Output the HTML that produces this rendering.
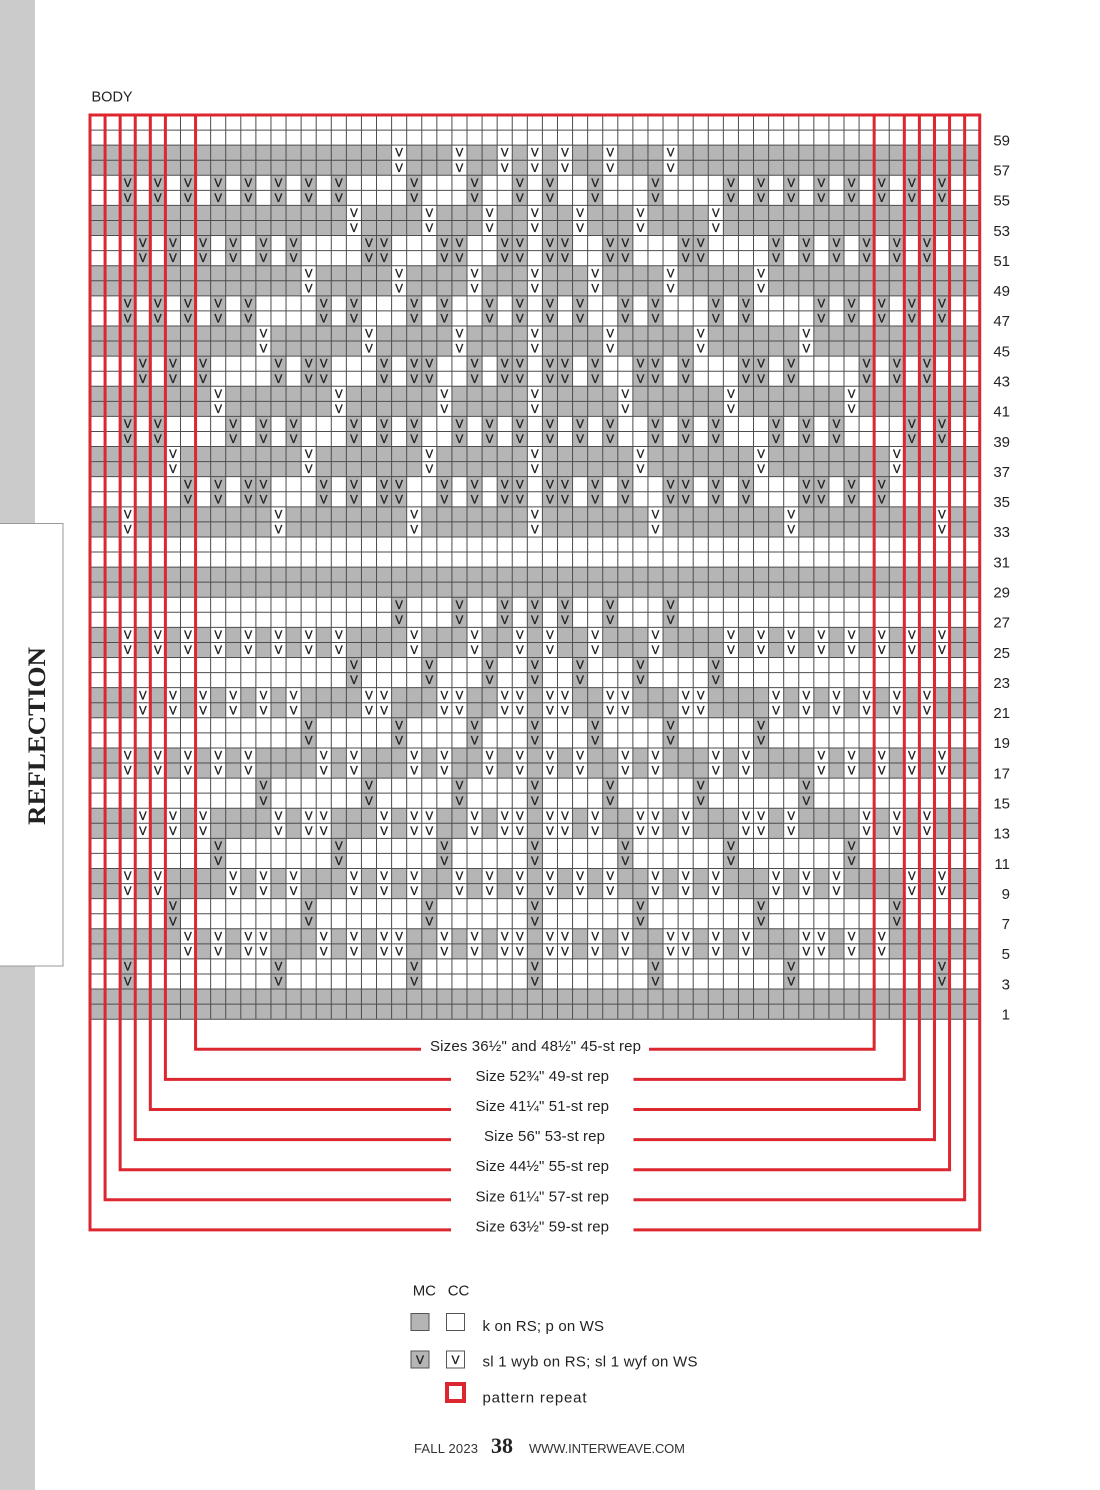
<!DOCTYPE html>
<html><head><meta charset="utf-8">
<style>
html,body{margin:0;padding:0;background:#fff;}
body{width:1100px;height:1490px;overflow:hidden;position:relative;}
svg{position:absolute;left:0;top:0;}
.v{font-family:"Liberation Sans",sans-serif;font-size:11.5px;fill:#222;stroke:#222;stroke-width:0.35;text-anchor:middle;}
.cw{stroke:#fff;stroke-width:15.08;fill:none;}
.cg{stroke:#b5b5b5;stroke-width:15.08;fill:none;}
.t{font-family:"Liberation Sans",sans-serif;fill:#222;}
</style></head>
<body>
<svg width="1100" height="1490" viewBox="0 0 1100 1490" xmlns="http://www.w3.org/2000/svg">
<!-- sidebar -->
<rect x="0" y="0" width="35" height="1490" fill="#cbcbcb"/>
<rect x="-2" y="523.5" width="65" height="442.5" fill="#fff" stroke="#999" stroke-width="1"/>
<text transform="translate(45,736) rotate(-90)" text-anchor="middle" font-family="Liberation Serif, serif" font-weight="bold" font-size="25" fill="#222" textLength="178" lengthAdjust="spacingAndGlyphs">REFLECTION</text>

<text class="t" x="91.5" y="101.7" font-size="14.5">BODY</text>

<!-- gray bands -->
<g fill="#b5b5b5">
<rect x="90" y="145.14" width="889.72" height="30.14"/>
<rect x="90" y="205.42" width="889.72" height="30.14"/>
<rect x="90" y="265.70" width="889.72" height="30.14"/>
<rect x="90" y="325.98" width="889.72" height="30.14"/>
<rect x="90" y="386.26" width="889.72" height="30.14"/>
<rect x="90" y="446.54" width="889.72" height="30.14"/>
<rect x="90" y="506.82" width="889.72" height="30.14"/>
<rect x="90" y="567.10" width="889.72" height="30.14"/>
<rect x="90" y="627.38" width="889.72" height="30.14"/>
<rect x="90" y="687.66" width="889.72" height="30.14"/>
<rect x="90" y="747.94" width="889.72" height="30.14"/>
<rect x="90" y="808.22" width="889.72" height="30.14"/>
<rect x="90" y="868.50" width="889.72" height="30.14"/>
<rect x="90" y="928.78" width="889.72" height="30.14"/>
<rect x="90" y="989.06" width="889.72" height="30.14"/>
</g>

<!-- ===== Upper half ===== -->
<g transform="translate(0,145.14)">
<path class="cw" d="M399.14 0v30.14M459.46 0v30.14M504.7 0v30.14M534.86 0v30.14M565.02 0v30.14M610.26 0v30.14M670.58 0v30.14"/>
<text class="v" x="399.14 459.46 504.7 534.86 565.02 610.26 670.58" y="11.6">VVVVVVV</text>
<text class="v" x="399.14 459.46 504.7 534.86 565.02 610.26 670.58" y="26.7">VVVVVVV</text>
</g>
<g transform="translate(0,175.28)">
<path class="cg" d="M127.7 0v30.14M157.86 0v30.14M188.02 0v30.14M218.18 0v30.14M248.34 0v30.14M278.5 0v30.14M308.66 0v30.14M338.82 0v30.14M414.22 0v30.14M474.54 0v30.14M519.78 0v30.14M549.94 0v30.14M595.18 0v30.14M655.5 0v30.14M730.9 0v30.14M761.06 0v30.14M791.22 0v30.14M821.38 0v30.14M851.54 0v30.14M881.7 0v30.14M911.86 0v30.14M942.02 0v30.14"/>
<text class="v" x="127.7 157.86 188.02 218.18 248.34 278.5 308.66 338.82 414.22 474.54 519.78 549.94 595.18 655.5 730.9 761.06 791.22 821.38 851.54 881.7 911.86 942.02" y="11.6">VVVVVVVVVVVVVVVVVVVVVV</text>
<text class="v" x="127.7 157.86 188.02 218.18 248.34 278.5 308.66 338.82 414.22 474.54 519.78 549.94 595.18 655.5 730.9 761.06 791.22 821.38 851.54 881.7 911.86 942.02" y="26.7">VVVVVVVVVVVVVVVVVVVVVV</text>
</g>
<g transform="translate(0,205.42)">
<path class="cw" d="M353.9 0v30.14M429.3 0v30.14M489.62 0v30.14M534.86 0v30.14M580.1 0v30.14M640.42 0v30.14M715.82 0v30.14"/>
<text class="v" x="353.9 429.3 489.62 534.86 580.1 640.42 715.82" y="11.6">VVVVVVV</text>
<text class="v" x="353.9 429.3 489.62 534.86 580.1 640.42 715.82" y="26.7">VVVVVVV</text>
</g>
<g transform="translate(0,235.56)">
<path class="cg" d="M142.78 0v30.14M172.94 0v30.14M203.1 0v30.14M233.26 0v30.14M263.42 0v30.14M293.58 0v30.14M368.98 0v30.14M384.06 0v30.14M444.38 0v30.14M459.46 0v30.14M504.7 0v30.14M519.78 0v30.14M549.94 0v30.14M565.02 0v30.14M610.26 0v30.14M625.34 0v30.14M685.66 0v30.14M700.74 0v30.14M776.14 0v30.14M806.3 0v30.14M836.46 0v30.14M866.62 0v30.14M896.78 0v30.14M926.94 0v30.14"/>
<text class="v" x="142.78 172.94 203.1 233.26 263.42 293.58 368.98 384.06 444.38 459.46 504.7 519.78 549.94 565.02 610.26 625.34 685.66 700.74 776.14 806.3 836.46 866.62 896.78 926.94" y="11.6">VVVVVVVVVVVVVVVVVVVVVVVV</text>
<text class="v" x="142.78 172.94 203.1 233.26 263.42 293.58 368.98 384.06 444.38 459.46 504.7 519.78 549.94 565.02 610.26 625.34 685.66 700.74 776.14 806.3 836.46 866.62 896.78 926.94" y="26.7">VVVVVVVVVVVVVVVVVVVVVVVV</text>
</g>
<g transform="translate(0,265.70)">
<path class="cw" d="M308.66 0v30.14M399.14 0v30.14M474.54 0v30.14M534.86 0v30.14M595.18 0v30.14M670.58 0v30.14M761.06 0v30.14"/>
<text class="v" x="308.66 399.14 474.54 534.86 595.18 670.58 761.06" y="11.6">VVVVVVV</text>
<text class="v" x="308.66 399.14 474.54 534.86 595.18 670.58 761.06" y="26.7">VVVVVVV</text>
</g>
<g transform="translate(0,295.84)">
<path class="cg" d="M127.7 0v30.14M157.86 0v30.14M188.02 0v30.14M218.18 0v30.14M248.34 0v30.14M323.74 0v30.14M353.9 0v30.14M414.22 0v30.14M444.38 0v30.14M489.62 0v30.14M519.78 0v30.14M549.94 0v30.14M580.1 0v30.14M625.34 0v30.14M655.5 0v30.14M715.82 0v30.14M745.98 0v30.14M821.38 0v30.14M851.54 0v30.14M881.7 0v30.14M911.86 0v30.14M942.02 0v30.14"/>
<text class="v" x="127.7 157.86 188.02 218.18 248.34 323.74 353.9 414.22 444.38 489.62 519.78 549.94 580.1 625.34 655.5 715.82 745.98 821.38 851.54 881.7 911.86 942.02" y="11.6">VVVVVVVVVVVVVVVVVVVVVV</text>
<text class="v" x="127.7 157.86 188.02 218.18 248.34 323.74 353.9 414.22 444.38 489.62 519.78 549.94 580.1 625.34 655.5 715.82 745.98 821.38 851.54 881.7 911.86 942.02" y="26.7">VVVVVVVVVVVVVVVVVVVVVV</text>
</g>
<g transform="translate(0,325.98)">
<path class="cw" d="M263.42 0v30.14M368.98 0v30.14M459.46 0v30.14M534.86 0v30.14M610.26 0v30.14M700.74 0v30.14M806.3 0v30.14"/>
<text class="v" x="263.42 368.98 459.46 534.86 610.26 700.74 806.3" y="11.6">VVVVVVV</text>
<text class="v" x="263.42 368.98 459.46 534.86 610.26 700.74 806.3" y="26.7">VVVVVVV</text>
</g>
<g transform="translate(0,356.12)">
<path class="cg" d="M142.78 0v30.14M172.94 0v30.14M203.1 0v30.14M278.5 0v30.14M308.66 0v30.14M323.74 0v30.14M384.06 0v30.14M414.22 0v30.14M429.3 0v30.14M474.54 0v30.14M504.7 0v30.14M519.78 0v30.14M549.94 0v30.14M565.02 0v30.14M595.18 0v30.14M640.42 0v30.14M655.5 0v30.14M685.66 0v30.14M745.98 0v30.14M761.06 0v30.14M791.22 0v30.14M866.62 0v30.14M896.78 0v30.14M926.94 0v30.14"/>
<text class="v" x="142.78 172.94 203.1 278.5 308.66 323.74 384.06 414.22 429.3 474.54 504.7 519.78 549.94 565.02 595.18 640.42 655.5 685.66 745.98 761.06 791.22 866.62 896.78 926.94" y="11.6">VVVVVVVVVVVVVVVVVVVVVVVV</text>
<text class="v" x="142.78 172.94 203.1 278.5 308.66 323.74 384.06 414.22 429.3 474.54 504.7 519.78 549.94 565.02 595.18 640.42 655.5 685.66 745.98 761.06 791.22 866.62 896.78 926.94" y="26.7">VVVVVVVVVVVVVVVVVVVVVVVV</text>
</g>
<g transform="translate(0,386.26)">
<path class="cw" d="M218.18 0v30.14M338.82 0v30.14M444.38 0v30.14M534.86 0v30.14M625.34 0v30.14M730.9 0v30.14M851.54 0v30.14"/>
<text class="v" x="218.18 338.82 444.38 534.86 625.34 730.9 851.54" y="11.6">VVVVVVV</text>
<text class="v" x="218.18 338.82 444.38 534.86 625.34 730.9 851.54" y="26.7">VVVVVVV</text>
</g>
<g transform="translate(0,416.40)">
<path class="cg" d="M127.7 0v30.14M157.86 0v30.14M233.26 0v30.14M263.42 0v30.14M293.58 0v30.14M353.9 0v30.14M384.06 0v30.14M414.22 0v30.14M459.46 0v30.14M489.62 0v30.14M519.78 0v30.14M549.94 0v30.14M580.1 0v30.14M610.26 0v30.14M655.5 0v30.14M685.66 0v30.14M715.82 0v30.14M776.14 0v30.14M806.3 0v30.14M836.46 0v30.14M911.86 0v30.14M942.02 0v30.14"/>
<text class="v" x="127.7 157.86 233.26 263.42 293.58 353.9 384.06 414.22 459.46 489.62 519.78 549.94 580.1 610.26 655.5 685.66 715.82 776.14 806.3 836.46 911.86 942.02" y="11.6">VVVVVVVVVVVVVVVVVVVVVV</text>
<text class="v" x="127.7 157.86 233.26 263.42 293.58 353.9 384.06 414.22 459.46 489.62 519.78 549.94 580.1 610.26 655.5 685.66 715.82 776.14 806.3 836.46 911.86 942.02" y="26.7">VVVVVVVVVVVVVVVVVVVVVV</text>
</g>
<g transform="translate(0,446.54)">
<path class="cw" d="M172.94 0v30.14M308.66 0v30.14M429.3 0v30.14M534.86 0v30.14M640.42 0v30.14M761.06 0v30.14M896.78 0v30.14"/>
<text class="v" x="172.94 308.66 429.3 534.86 640.42 761.06 896.78" y="11.6">VVVVVVV</text>
<text class="v" x="172.94 308.66 429.3 534.86 640.42 761.06 896.78" y="26.7">VVVVVVV</text>
</g>
<g transform="translate(0,476.68)">
<path class="cg" d="M188.02 0v30.14M218.18 0v30.14M248.34 0v30.14M263.42 0v30.14M323.74 0v30.14M353.9 0v30.14M384.06 0v30.14M399.14 0v30.14M444.38 0v30.14M474.54 0v30.14M504.7 0v30.14M519.78 0v30.14M549.94 0v30.14M565.02 0v30.14M595.18 0v30.14M625.34 0v30.14M670.58 0v30.14M685.66 0v30.14M715.82 0v30.14M745.98 0v30.14M806.3 0v30.14M821.38 0v30.14M851.54 0v30.14M881.7 0v30.14"/>
<text class="v" x="188.02 218.18 248.34 263.42 323.74 353.9 384.06 399.14 444.38 474.54 504.7 519.78 549.94 565.02 595.18 625.34 670.58 685.66 715.82 745.98 806.3 821.38 851.54 881.7" y="11.6">VVVVVVVVVVVVVVVVVVVVVVVV</text>
<text class="v" x="188.02 218.18 248.34 263.42 323.74 353.9 384.06 399.14 444.38 474.54 504.7 519.78 549.94 565.02 595.18 625.34 670.58 685.66 715.82 745.98 806.3 821.38 851.54 881.7" y="26.7">VVVVVVVVVVVVVVVVVVVVVVVV</text>
</g>
<g transform="translate(0,506.82)">
<path class="cw" d="M127.7 0v30.14M278.5 0v30.14M414.22 0v30.14M534.86 0v30.14M655.5 0v30.14M791.22 0v30.14M942.02 0v30.14"/>
<text class="v" x="127.7 278.5 414.22 534.86 655.5 791.22 942.02" y="11.6">VVVVVVV</text>
<text class="v" x="127.7 278.5 414.22 534.86 655.5 791.22 942.02" y="26.7">VVVVVVV</text>
</g>

<!-- ===== Lower half ===== -->
<g transform="translate(0,597.24)">
<path class="cg" d="M399.14 0v30.14M459.46 0v30.14M504.7 0v30.14M534.86 0v30.14M565.02 0v30.14M610.26 0v30.14M670.58 0v30.14"/>
<text class="v" x="399.14 459.46 504.7 534.86 565.02 610.26 670.58" y="11.6">VVVVVVV</text>
<text class="v" x="399.14 459.46 504.7 534.86 565.02 610.26 670.58" y="26.7">VVVVVVV</text>
</g>
<g transform="translate(0,627.38)">
<path class="cw" d="M127.7 0v30.14M157.86 0v30.14M188.02 0v30.14M218.18 0v30.14M248.34 0v30.14M278.5 0v30.14M308.66 0v30.14M338.82 0v30.14M414.22 0v30.14M474.54 0v30.14M519.78 0v30.14M549.94 0v30.14M595.18 0v30.14M655.5 0v30.14M730.9 0v30.14M761.06 0v30.14M791.22 0v30.14M821.38 0v30.14M851.54 0v30.14M881.7 0v30.14M911.86 0v30.14M942.02 0v30.14"/>
<text class="v" x="127.7 157.86 188.02 218.18 248.34 278.5 308.66 338.82 414.22 474.54 519.78 549.94 595.18 655.5 730.9 761.06 791.22 821.38 851.54 881.7 911.86 942.02" y="11.6">VVVVVVVVVVVVVVVVVVVVVV</text>
<text class="v" x="127.7 157.86 188.02 218.18 248.34 278.5 308.66 338.82 414.22 474.54 519.78 549.94 595.18 655.5 730.9 761.06 791.22 821.38 851.54 881.7 911.86 942.02" y="26.7">VVVVVVVVVVVVVVVVVVVVVV</text>
</g>
<g transform="translate(0,657.52)">
<path class="cg" d="M353.9 0v30.14M429.3 0v30.14M489.62 0v30.14M534.86 0v30.14M580.1 0v30.14M640.42 0v30.14M715.82 0v30.14"/>
<text class="v" x="353.9 429.3 489.62 534.86 580.1 640.42 715.82" y="11.6">VVVVVVV</text>
<text class="v" x="353.9 429.3 489.62 534.86 580.1 640.42 715.82" y="26.7">VVVVVVV</text>
</g>
<g transform="translate(0,687.66)">
<path class="cw" d="M142.78 0v30.14M172.94 0v30.14M203.1 0v30.14M233.26 0v30.14M263.42 0v30.14M293.58 0v30.14M368.98 0v30.14M384.06 0v30.14M444.38 0v30.14M459.46 0v30.14M504.7 0v30.14M519.78 0v30.14M549.94 0v30.14M565.02 0v30.14M610.26 0v30.14M625.34 0v30.14M685.66 0v30.14M700.74 0v30.14M776.14 0v30.14M806.3 0v30.14M836.46 0v30.14M866.62 0v30.14M896.78 0v30.14M926.94 0v30.14"/>
<text class="v" x="142.78 172.94 203.1 233.26 263.42 293.58 368.98 384.06 444.38 459.46 504.7 519.78 549.94 565.02 610.26 625.34 685.66 700.74 776.14 806.3 836.46 866.62 896.78 926.94" y="11.6">VVVVVVVVVVVVVVVVVVVVVVVV</text>
<text class="v" x="142.78 172.94 203.1 233.26 263.42 293.58 368.98 384.06 444.38 459.46 504.7 519.78 549.94 565.02 610.26 625.34 685.66 700.74 776.14 806.3 836.46 866.62 896.78 926.94" y="26.7">VVVVVVVVVVVVVVVVVVVVVVVV</text>
</g>
<g transform="translate(0,717.80)">
<path class="cg" d="M308.66 0v30.14M399.14 0v30.14M474.54 0v30.14M534.86 0v30.14M595.18 0v30.14M670.58 0v30.14M761.06 0v30.14"/>
<text class="v" x="308.66 399.14 474.54 534.86 595.18 670.58 761.06" y="11.6">VVVVVVV</text>
<text class="v" x="308.66 399.14 474.54 534.86 595.18 670.58 761.06" y="26.7">VVVVVVV</text>
</g>
<g transform="translate(0,747.94)">
<path class="cw" d="M127.7 0v30.14M157.86 0v30.14M188.02 0v30.14M218.18 0v30.14M248.34 0v30.14M323.74 0v30.14M353.9 0v30.14M414.22 0v30.14M444.38 0v30.14M489.62 0v30.14M519.78 0v30.14M549.94 0v30.14M580.1 0v30.14M625.34 0v30.14M655.5 0v30.14M715.82 0v30.14M745.98 0v30.14M821.38 0v30.14M851.54 0v30.14M881.7 0v30.14M911.86 0v30.14M942.02 0v30.14"/>
<text class="v" x="127.7 157.86 188.02 218.18 248.34 323.74 353.9 414.22 444.38 489.62 519.78 549.94 580.1 625.34 655.5 715.82 745.98 821.38 851.54 881.7 911.86 942.02" y="11.6">VVVVVVVVVVVVVVVVVVVVVV</text>
<text class="v" x="127.7 157.86 188.02 218.18 248.34 323.74 353.9 414.22 444.38 489.62 519.78 549.94 580.1 625.34 655.5 715.82 745.98 821.38 851.54 881.7 911.86 942.02" y="26.7">VVVVVVVVVVVVVVVVVVVVVV</text>
</g>
<g transform="translate(0,778.08)">
<path class="cg" d="M263.42 0v30.14M368.98 0v30.14M459.46 0v30.14M534.86 0v30.14M610.26 0v30.14M700.74 0v30.14M806.3 0v30.14"/>
<text class="v" x="263.42 368.98 459.46 534.86 610.26 700.74 806.3" y="11.6">VVVVVVV</text>
<text class="v" x="263.42 368.98 459.46 534.86 610.26 700.74 806.3" y="26.7">VVVVVVV</text>
</g>
<g transform="translate(0,808.22)">
<path class="cw" d="M142.78 0v30.14M172.94 0v30.14M203.1 0v30.14M278.5 0v30.14M308.66 0v30.14M323.74 0v30.14M384.06 0v30.14M414.22 0v30.14M429.3 0v30.14M474.54 0v30.14M504.7 0v30.14M519.78 0v30.14M549.94 0v30.14M565.02 0v30.14M595.18 0v30.14M640.42 0v30.14M655.5 0v30.14M685.66 0v30.14M745.98 0v30.14M761.06 0v30.14M791.22 0v30.14M866.62 0v30.14M896.78 0v30.14M926.94 0v30.14"/>
<text class="v" x="142.78 172.94 203.1 278.5 308.66 323.74 384.06 414.22 429.3 474.54 504.7 519.78 549.94 565.02 595.18 640.42 655.5 685.66 745.98 761.06 791.22 866.62 896.78 926.94" y="11.6">VVVVVVVVVVVVVVVVVVVVVVVV</text>
<text class="v" x="142.78 172.94 203.1 278.5 308.66 323.74 384.06 414.22 429.3 474.54 504.7 519.78 549.94 565.02 595.18 640.42 655.5 685.66 745.98 761.06 791.22 866.62 896.78 926.94" y="26.7">VVVVVVVVVVVVVVVVVVVVVVVV</text>
</g>
<g transform="translate(0,838.36)">
<path class="cg" d="M218.18 0v30.14M338.82 0v30.14M444.38 0v30.14M534.86 0v30.14M625.34 0v30.14M730.9 0v30.14M851.54 0v30.14"/>
<text class="v" x="218.18 338.82 444.38 534.86 625.34 730.9 851.54" y="11.6">VVVVVVV</text>
<text class="v" x="218.18 338.82 444.38 534.86 625.34 730.9 851.54" y="26.7">VVVVVVV</text>
</g>
<g transform="translate(0,868.50)">
<path class="cw" d="M127.7 0v30.14M157.86 0v30.14M233.26 0v30.14M263.42 0v30.14M293.58 0v30.14M353.9 0v30.14M384.06 0v30.14M414.22 0v30.14M459.46 0v30.14M489.62 0v30.14M519.78 0v30.14M549.94 0v30.14M580.1 0v30.14M610.26 0v30.14M655.5 0v30.14M685.66 0v30.14M715.82 0v30.14M776.14 0v30.14M806.3 0v30.14M836.46 0v30.14M911.86 0v30.14M942.02 0v30.14"/>
<text class="v" x="127.7 157.86 233.26 263.42 293.58 353.9 384.06 414.22 459.46 489.62 519.78 549.94 580.1 610.26 655.5 685.66 715.82 776.14 806.3 836.46 911.86 942.02" y="11.6">VVVVVVVVVVVVVVVVVVVVVV</text>
<text class="v" x="127.7 157.86 233.26 263.42 293.58 353.9 384.06 414.22 459.46 489.62 519.78 549.94 580.1 610.26 655.5 685.66 715.82 776.14 806.3 836.46 911.86 942.02" y="26.7">VVVVVVVVVVVVVVVVVVVVVV</text>
</g>
<g transform="translate(0,898.64)">
<path class="cg" d="M172.94 0v30.14M308.66 0v30.14M429.3 0v30.14M534.86 0v30.14M640.42 0v30.14M761.06 0v30.14M896.78 0v30.14"/>
<text class="v" x="172.94 308.66 429.3 534.86 640.42 761.06 896.78" y="11.6">VVVVVVV</text>
<text class="v" x="172.94 308.66 429.3 534.86 640.42 761.06 896.78" y="26.7">VVVVVVV</text>
</g>
<g transform="translate(0,928.78)">
<path class="cw" d="M188.02 0v30.14M218.18 0v30.14M248.34 0v30.14M263.42 0v30.14M323.74 0v30.14M353.9 0v30.14M384.06 0v30.14M399.14 0v30.14M444.38 0v30.14M474.54 0v30.14M504.7 0v30.14M519.78 0v30.14M549.94 0v30.14M565.02 0v30.14M595.18 0v30.14M625.34 0v30.14M670.58 0v30.14M685.66 0v30.14M715.82 0v30.14M745.98 0v30.14M806.3 0v30.14M821.38 0v30.14M851.54 0v30.14M881.7 0v30.14"/>
<text class="v" x="188.02 218.18 248.34 263.42 323.74 353.9 384.06 399.14 444.38 474.54 504.7 519.78 549.94 565.02 595.18 625.34 670.58 685.66 715.82 745.98 806.3 821.38 851.54 881.7" y="11.6">VVVVVVVVVVVVVVVVVVVVVVVV</text>
<text class="v" x="188.02 218.18 248.34 263.42 323.74 353.9 384.06 399.14 444.38 474.54 504.7 519.78 549.94 565.02 595.18 625.34 670.58 685.66 715.82 745.98 806.3 821.38 851.54 881.7" y="26.7">VVVVVVVVVVVVVVVVVVVVVVVV</text>
</g>
<g transform="translate(0,958.92)">
<path class="cg" d="M127.7 0v30.14M278.5 0v30.14M414.22 0v30.14M534.86 0v30.14M655.5 0v30.14M791.22 0v30.14M942.02 0v30.14"/>
<text class="v" x="127.7 278.5 414.22 534.86 655.5 791.22 942.02" y="11.6">VVVVVVV</text>
<text class="v" x="127.7 278.5 414.22 534.86 655.5 791.22 942.02" y="26.7">VVVVVVV</text>
</g>

<!-- grid lines -->
<path fill="none" stroke="#4d4d4d" stroke-width="1" d="M90 115V1019.2M105.08 115V1019.2M120.16 115V1019.2M135.24 115V1019.2M150.32 115V1019.2M165.4 115V1019.2M180.48 115V1019.2M195.56 115V1019.2M210.64 115V1019.2M225.72 115V1019.2M240.8 115V1019.2M255.88 115V1019.2M270.96 115V1019.2M286.04 115V1019.2M301.12 115V1019.2M316.2 115V1019.2M331.28 115V1019.2M346.36 115V1019.2M361.44 115V1019.2M376.52 115V1019.2M391.6 115V1019.2M406.68 115V1019.2M421.76 115V1019.2M436.84 115V1019.2M451.92 115V1019.2M467 115V1019.2M482.08 115V1019.2M497.16 115V1019.2M512.24 115V1019.2M527.32 115V1019.2M542.4 115V1019.2M557.48 115V1019.2M572.56 115V1019.2M587.64 115V1019.2M602.72 115V1019.2M617.8 115V1019.2M632.88 115V1019.2M647.96 115V1019.2M663.04 115V1019.2M678.12 115V1019.2M693.2 115V1019.2M708.28 115V1019.2M723.36 115V1019.2M738.44 115V1019.2M753.52 115V1019.2M768.6 115V1019.2M783.68 115V1019.2M798.76 115V1019.2M813.84 115V1019.2M828.92 115V1019.2M844 115V1019.2M859.08 115V1019.2M874.16 115V1019.2M889.24 115V1019.2M904.32 115V1019.2M919.4 115V1019.2M934.48 115V1019.2M949.56 115V1019.2M964.64 115V1019.2M979.72 115V1019.2
M90 115H979.72M90 130.07H979.72M90 145.14H979.72M90 160.21H979.72M90 175.28H979.72M90 190.35H979.72M90 205.42H979.72M90 220.49H979.72M90 235.56H979.72M90 250.63H979.72M90 265.7H979.72M90 280.77H979.72M90 295.84H979.72M90 310.91H979.72M90 325.98H979.72M90 341.05H979.72M90 356.12H979.72M90 371.19H979.72M90 386.26H979.72M90 401.33H979.72M90 416.4H979.72M90 431.47H979.72M90 446.54H979.72M90 461.61H979.72M90 476.68H979.72M90 491.75H979.72M90 506.82H979.72M90 521.89H979.72M90 536.96H979.72M90 552.03H979.72M90 567.1H979.72M90 582.17H979.72M90 597.24H979.72M90 612.31H979.72M90 627.38H979.72M90 642.45H979.72M90 657.52H979.72M90 672.59H979.72M90 687.66H979.72M90 702.73H979.72M90 717.8H979.72M90 732.87H979.72M90 747.94H979.72M90 763.01H979.72M90 778.08H979.72M90 793.15H979.72M90 808.22H979.72M90 823.29H979.72M90 838.36H979.72M90 853.43H979.72M90 868.5H979.72M90 883.57H979.72M90 898.64H979.72M90 913.71H979.72M90 928.78H979.72M90 943.85H979.72M90 958.92H979.72M90 973.99H979.72M90 989.06H979.72M90 1004.13H979.72M90 1019.2H979.72"/>

<!-- red repeat lines -->
<g fill="none" stroke="#dc2630" stroke-width="3" stroke-linejoin="miter">
<path d="M88.5 115H981.2"/>
<path d="M195.56 115V1049.3H421M649 1049.3H874.16V115"/>
<path d="M165.4 115V1079.4H451M633.5 1079.4H904.32V115"/>
<path d="M150.32 115V1109.5H451M633.5 1109.5H919.4V115"/>
<path d="M135.24 115V1139.6H451M633.5 1139.6H934.48V115"/>
<path d="M120.16 115V1169.7H451M633.5 1169.7H949.56V115"/>
<path d="M105.08 115V1199.8H451M633.5 1199.8H964.64V115"/>
<path d="M90 115V1229.9H451M633.5 1229.9H979.72V115"/>
</g>

<!-- repeat labels -->
<g class="t" font-size="15">
<text x="430" y="1050.8" textLength="211">Sizes 36½" and 48½" 45-st rep</text>
<text x="475.5" y="1080.9" textLength="133.5">Size 52¾" 49-st rep</text>
<text x="475.5" y="1111" textLength="133.5">Size 41¼" 51-st rep</text>
<text x="484" y="1141.1" textLength="121">Size 56" 53-st rep</text>
<text x="475.5" y="1171.2" textLength="133.5">Size 44½" 55-st rep</text>
<text x="475.5" y="1201.3" textLength="133.5">Size 61¼" 57-st rep</text>
<text x="475.5" y="1231.4" textLength="133.5">Size 63½" 59-st rep</text>
</g>

<!-- row numbers -->
<g class="t" font-size="15" text-anchor="end">
<text x="1010" y="145.4">59</text>
<text x="1010" y="175.5">57</text>
<text x="1010" y="205.7">55</text>
<text x="1010" y="235.8">53</text>
<text x="1010" y="266">51</text>
<text x="1010" y="296.1">49</text>
<text x="1010" y="326.2">47</text>
<text x="1010" y="356.4">45</text>
<text x="1010" y="386.5">43</text>
<text x="1010" y="416.7">41</text>
<text x="1010" y="446.8">39</text>
<text x="1010" y="477">37</text>
<text x="1010" y="507.1">35</text>
<text x="1010" y="537.2">33</text>
<text x="1010" y="567.4">31</text>
<text x="1010" y="597.5">29</text>
<text x="1010" y="627.7">27</text>
<text x="1010" y="657.8">25</text>
<text x="1010" y="687.9">23</text>
<text x="1010" y="718.1">21</text>
<text x="1010" y="748.2">19</text>
<text x="1010" y="778.4">17</text>
<text x="1010" y="808.5">15</text>
<text x="1010" y="838.6">13</text>
<text x="1010" y="868.8">11</text>
<text x="1010" y="898.9">9</text>
<text x="1010" y="929.1">7</text>
<text x="1010" y="959.2">5</text>
<text x="1010" y="989.3">3</text>
<text x="1010" y="1019.5">1</text>
</g>

<!-- legend -->
<g class="t" font-size="15">
<text x="412.7" y="1295.7">MC</text>
<text x="447.7" y="1295.7">CC</text>
<text x="482.5" y="1331" textLength="121.5">k on RS; p on WS</text>
<text x="482.5" y="1366.7" textLength="215">sl 1 wyb on RS; sl 1 wyf on WS</text>
<text x="482.5" y="1402.3" textLength="104">pattern repeat</text>
</g>
<rect x="411" y="1313.5" width="18" height="17" fill="#b5b5b5" stroke="#555" stroke-width="1"/>
<rect x="446.5" y="1313.5" width="18" height="17" fill="#fff" stroke="#555" stroke-width="1"/>
<rect x="411" y="1351" width="18" height="17" fill="#b5b5b5" stroke="#555" stroke-width="1"/>
<rect x="446.5" y="1351" width="18" height="17" fill="#fff" stroke="#555" stroke-width="1"/>
<text class="v" x="420" y="1364" style="font-size:12px">V</text>
<text class="v" x="455.5" y="1364" style="font-size:12px">V</text>
<rect x="447" y="1384" width="17" height="17" fill="#fff" stroke="#dc2630" stroke-width="4"/>

<!-- footer -->
<text x="414" y="1453" font-family="Liberation Sans, sans-serif" font-size="13" fill="#333" textLength="64">FALL 2023</text>
<text x="491" y="1453" font-family="Liberation Serif, serif" font-weight="bold" font-size="22" fill="#222" textLength="22">38</text>
<text x="529" y="1453" font-family="Liberation Sans, sans-serif" font-size="13" fill="#333" textLength="156">WWW.INTERWEAVE.COM</text>
</svg>
</body></html>
